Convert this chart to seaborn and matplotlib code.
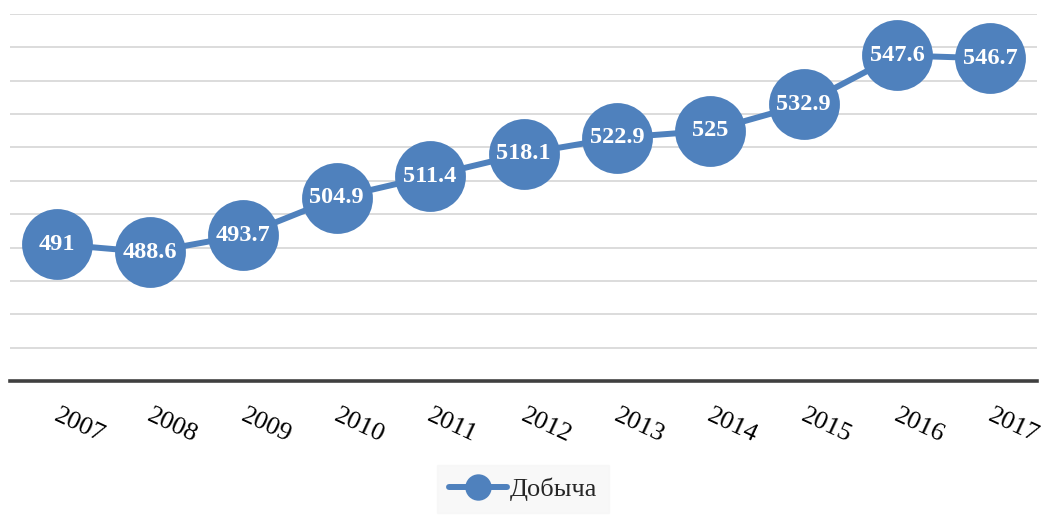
import matplotlib
matplotlib.use("Agg")
import matplotlib.pyplot as plt
import matplotlib.transforms as mtransforms
import seaborn as sns
import pandas as pd
from matplotlib.lines import Line2D

years = ["2007", "2008", "2009", "2010", "2011", "2012", "2013", "2014", "2015", "2016", "2017"]
values = [491, 488.6, 493.7, 504.9, 511.4, 518.1, 522.9, 525, 532.9, 547.6, 546.7]
labels = ["491", "488.6", "493.7", "504.9", "511.4", "518.1", "522.9", "525", "532.9", "547.6", "546.7"]
series_name = "Добыча"

sns.set_theme(style="white")
plt.rcParams['font.family'] = ['Liberation Serif', 'DejaVu Serif']

color = "#4F81BD"
df = pd.DataFrame({"year": years, "value": values})

fig = plt.figure(figsize=(10.42, 5.19), dpi=100)
ax = fig.add_axes([10/1042, 1 - 381/519, 1027/1042, (381 - 14)/519])

x = list(range(len(years)))
df["x"] = x
sns.lineplot(data=df, x="x", y="value", ax=ax, color=color, linewidth=4.3,
             marker="o", markersize=51, markeredgewidth=0, zorder=3)

for xi, v, lab in zip(x, values, labels):
    ax.text(xi, v, lab, ha="center", va="center", color="white",
            fontsize=17.5, fontweight="bold", zorder=4)

ax.set_xlim(-0.5, len(years) - 0.5)
ax.set_ylim(450, 560)
ax.set_yticks(range(460, 561, 10))
ax.yaxis.grid(True, color="#d9d9d9", linewidth=1.3)
ax.set_axisbelow(True)
ax.set_yticklabels([])
ax.tick_params(axis="y", length=0)
ax.set_xticks(x)
ax.set_xticklabels(years, rotation=-25, ha="left", va="top", fontsize=19, color="black")
ax.tick_params(axis="x", length=0, pad=17)
shift = mtransforms.ScaledTranslation(-6/100, 0, fig.dpi_scale_trans)
for t in ax.get_xticklabels():
    t.set_transform(t.get_transform() + shift)
ax.set_xlabel("")
ax.set_ylabel("")
for s in ["top", "right", "left"]:
    ax.spines[s].set_visible(False)
ax.spines["bottom"].set_color("#404040")
ax.spines["bottom"].set_linewidth(2.6)

handle = Line2D([0], [0], color=color, linewidth=4.3, marker="o", markersize=19, markeredgewidth=0)
leg = fig.legend([handle], [series_name], loc="center", bbox_to_anchor=(523/1042, 1 - 489/519),
                 frameon=True, fontsize=19, handlelength=2.2, handletextpad=0.1,
                 borderpad=0.45, fancybox=False)
leg.get_frame().set_facecolor("#f7f7f7")
leg.get_frame().set_edgecolor("#f7f7f7")

fig.savefig("out.png", dpi=100)
